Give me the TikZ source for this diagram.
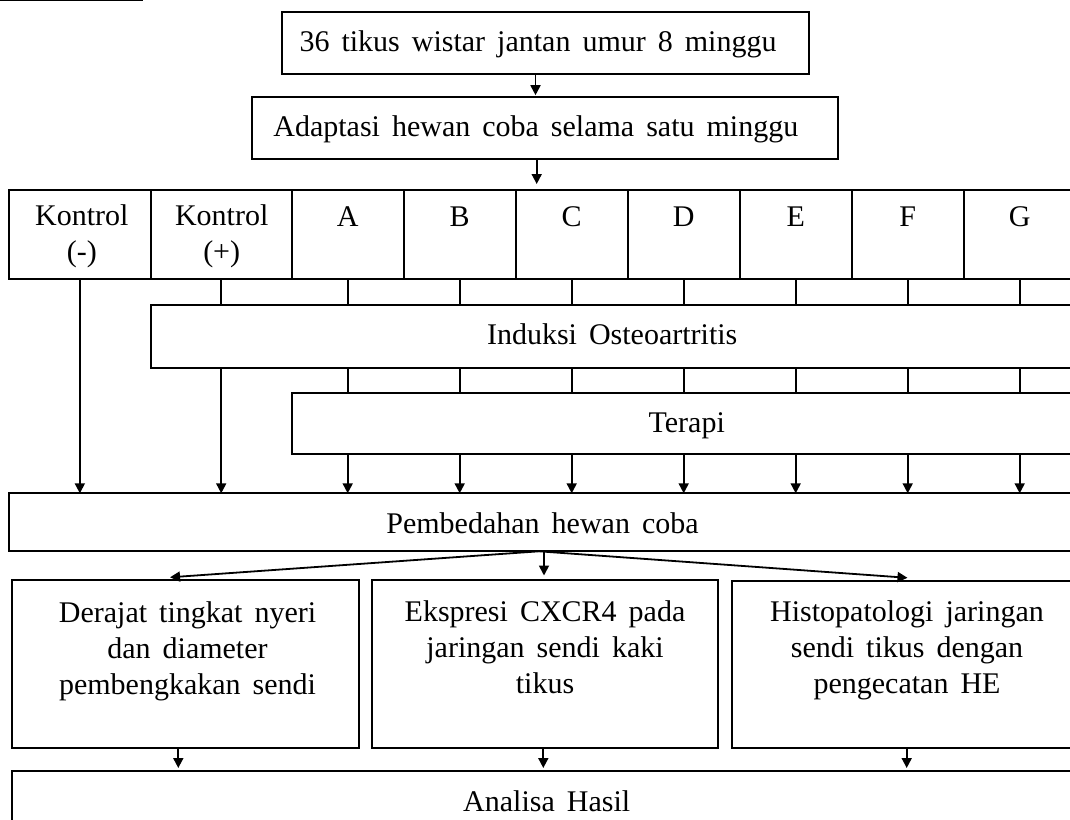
\documentclass[tikz,border=0pt]{standalone}
\usepackage{fontspec}
\setmainfont{Liberation Serif}[WordSpace=1.6]
\usetikzlibrary{arrows.meta}
\tikzset{
  box/.style={draw, line width=1.7pt, inner sep=0pt, outer sep=0pt},
  txt/.style={anchor=north, inner sep=0pt, outer sep=0pt, align=center, font=\fontsize{30}{35.7}\selectfont},
  conn/.style={line width=1.8pt},
  arr/.style={line width=1.8pt, -{Triangle[length=10pt,width=10pt]}},
}
\begin{document}
\begin{tikzpicture}[x=1pt,y=-1pt]
\useasboundingbox (0,0) rectangle (1070,819);
\clip (0,0) rectangle (1070,819);
% remnant rule at the top edge
\draw[line width=1.2pt] (0,0.7) -- (143,0.7);
% boxes
\node[box, minimum width=527.6pt, minimum height=62.6pt] (top) at (545.5,43) {};
\node[txt] (toptxt) at (538,26.7) {\strut 36 tikus wistar jantan umur 8 minggu};
\node[box, minimum width=585.7pt, minimum height=62.6pt] (adapt) at (544.85,128) {};
\node[txt] (adapttxt) at (535.8,111.7) {\strut Adaptasi hewan coba selama satu minggu};
\node[box, minimum width=141.7pt, minimum height=89pt] (kneg) at (79.85,234.5) {};
\node[txt] (knegtxt) at (81.8,200.7) {\strut Kontrol\\\strut (-)};
\node[box, minimum width=141pt, minimum height=89pt] (kpos) at (221.2,234.5) {};
\node[txt] (kpostxt) at (221.7,200.7) {\strut Kontrol\\\strut (+)};
\foreach \l [count=\i] in {A,B,C,D,E,F,G} {
  \node[box, minimum width=112pt, minimum height=89pt] (c\i) at ({347.7+112*(\i-1)},234.5) {};
  \node[txt] (c\i t) at ({347.7+112*(\i-1)},201.5) {\strut\l};
}
\node[box, minimum width=934.3pt, minimum height=62.7pt] (induksi) at (617.85,336.65) {};
\node[txt] (induksitxt) at (612.2,319.3) {\strut Induksi Osteoartritis};
\node[box, minimum width=793.3pt, minimum height=61pt] (terapi) at (688.35,423.5) {};
\node[txt] (terapitxt) at (686.7,407.7) {\strut Terapi};
\node[box, minimum width=1076pt, minimum height=57.4pt] (pemb) at (547,522) {};
\node[txt] (pembtxt) at (542.5,508.3) {\strut Pembedahan hewan coba};
\node[box, minimum width=346.7pt, minimum height=167.7pt] (derajat) at (185.65,663.85) {};
\node[txt] (derajattxt) at (187.5,597.7) {\strut Derajat tingkat nyeri\\\strut dan diameter\\\strut pembengkakan sendi};
\node[box, minimum width=346.6pt, minimum height=167.7pt] (ekspresi) at (545,663.85) {};
\node[txt] (ekspresitxt) at (545,596.7) {\strut Ekspresi CXCR4 pada\\\strut jaringan sendi kaki\\\strut tikus};
\node[box, minimum width=346.6pt, minimum height=167pt] (histo) at (905,664.2) {};
\node[txt] (histotxt) at (907,596.7) {\strut Histopatologi jaringan\\\strut sendi tikus dengan\\\strut pengecatan HE};
\node[box, minimum width=1073.3pt, minimum height=69pt] (analisa) at (548.35,805.5) {};
\node[txt] (analisatxt) at (546.7,786.7) {\strut Analisa Hasil};
% top connectors
\coordinate (ax1) at (535.5,0);
\coordinate (ax2) at (536.7,0);
\draw[arr, shorten >=1.5pt] (top.south -| ax1) -- (adapt.north -| ax1);
\draw[arr, shorten >=6pt] (adapt.south -| ax2) -- (c2.north -| ax2);
% control columns
\draw[arr] (kneg.south) -- (pemb.north -| kneg.south);
\draw[conn] (kpos.south) -- (induksi.north -| kpos.south);
\draw[arr] (induksi.south -| kpos.south) -- (pemb.north -| kpos.south);
% treatment columns
\foreach \i in {1,...,7} {
  \draw[conn] (c\i.south) -- (induksi.north -| c\i.south);
  \draw[conn] (induksi.south -| c\i.south) -- (terapi.north -| c\i.south);
  \draw[arr] (terapi.south -| c\i.south) -- (pemb.north -| c\i.south);
}
% fan out from Pembedahan
\coordinate (fo) at (539,551.3);
\coordinate (tipL) at (170,577.3);
\coordinate (tipR) at (907.5,577.8);
\draw[arr] (fo) -- (tipL);
\draw[arr] (fo) -- (tipR);
\coordinate (mx) at (544,0);
\draw[arr, shorten >=4.5pt] (pemb.south -| mx) -- (ekspresi.north -| mx);
% to Analisa
\coordinate (b1) at (178.3,0);
\coordinate (b2) at (543.3,0);
\coordinate (b3) at (906.7,0);
\draw[arr, shorten >=3pt] (derajat.south -| b1) -- (analisa.north -| b1);
\draw[arr, shorten >=3pt] (ekspresi.south -| b2) -- (analisa.north -| b2);
\draw[arr, shorten >=3pt] (histo.south -| b3) -- (analisa.north -| b3);
\end{tikzpicture}
\end{document}
